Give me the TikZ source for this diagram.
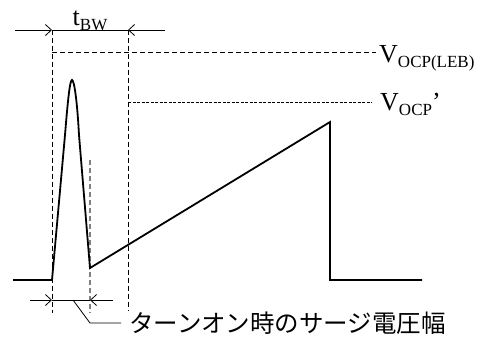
\documentclass[tikz,border=0pt]{standalone}
\usepackage{fontspec}
\setmainfont{Liberation Serif}
\newfontfamily\jpfont{Noto Sans CJK JP}
\usetikzlibrary{arrows.meta}
\newcommand{\lowsub}[1]{\raisebox{-5pt}{\fontsize{17}{17}\selectfont #1}}
\tikzset{
  wave/.style={line width=1.8pt, line join=miter},
  dimline/.style={line width=0.8pt},
  barbtip/.style={-{Straight Barb[length=6pt,width=11pt,line width=0.8pt]}},
  guide/.style={line width=0.9pt, dash pattern=on 5pt off 3pt},
  fineguide/.style={line width=0.8pt, dash pattern=on 3pt off 1.5pt},
  grayguide/.style={line width=1.3pt, black!50, dash pattern=on 5pt off 3pt},
  lbl/.style={inner sep=0pt, font=\fontsize{26}{26}\selectfont},
}
\begin{document}
\begin{tikzpicture}[x=1pt,y=-1pt]
\useasboundingbox (0,0) rectangle (481,338);
% coordinates
\coordinate (tl) at (15,30);
\coordinate (ta) at (52,30);
\coordinate (tb) at (128,30);
\coordinate (tr) at (165,30);
\coordinate (va) at (52,313);
\coordinate (vb) at (128,311);
\coordinate (hl) at (52,52);
\coordinate (hr) at (376,52);
\coordinate (dl) at (128,102);
\coordinate (dr) at (372,102);
\coordinate (gt) at (90,160);
\coordinate (gb) at (90,313);
\coordinate (bl) at (30,300);
\coordinate (ba) at (52,300);
\coordinate (bb) at (90,300);
\coordinate (br) at (113,300);
\coordinate (l0) at (73,300);
\coordinate (l1) at (90,323);
\coordinate (l2) at (121,323);
% guides
\draw[guide] (ta) -- (va);
\draw[guide] (tb) -- (vb);
\draw[guide] (hl) -- (hr);
\draw[fineguide] (dl) -- (dr);
\draw[grayguide] (gt) -- (gb);
% waveform
\coordinate (w0) at (13,280);
\coordinate (w1) at (52,280);
\coordinate (w2) at (65,135);
\coordinate (pk) at (72,80);
\coordinate (w3) at (79,135);
\coordinate (w4) at (90,268);
\coordinate (w5) at (330,122);
\coordinate (w6) at (330,280);
\coordinate (w7) at (422,280);
\draw[wave] (w0) -- (w1) -- (w2) .. controls (68,98) and (70,80) .. (pk)
  .. controls (74,80) and (77,98) .. (w3) -- (w4) -- (w5) -- (w6) -- (w7);
% top dimension
\draw[dimline,barbtip] (tl) -- (ta);
\draw[dimline] (ta) -- (tb);
\draw[dimline,barbtip] (tr) -- (tb);
% bottom dimension
\draw[dimline,barbtip] (bl) -- (ba);
\draw[dimline] (ba) -- (bb);
\draw[dimline,barbtip] (br) -- (bb);
\draw[dimline] (l0) -- (l1) -- (l2);
% labels
\node[lbl, anchor=base] (tbw) at (90,25) {t\lowsub{BW}};
\node[lbl, anchor=base west] (vleb) at (379,62) {V\lowsub{OCP(LEB)}};
\node[lbl, anchor=base west] (vocp) at (380,110) {V\lowsub{OCP}’};
\node[inner sep=0pt, anchor=west, font=\jpfont\fontsize{24.5}{24.5}\selectfont] (jp) at (129,323) {ターンオン時のサージ電圧幅};
\end{tikzpicture}
\end{document}
